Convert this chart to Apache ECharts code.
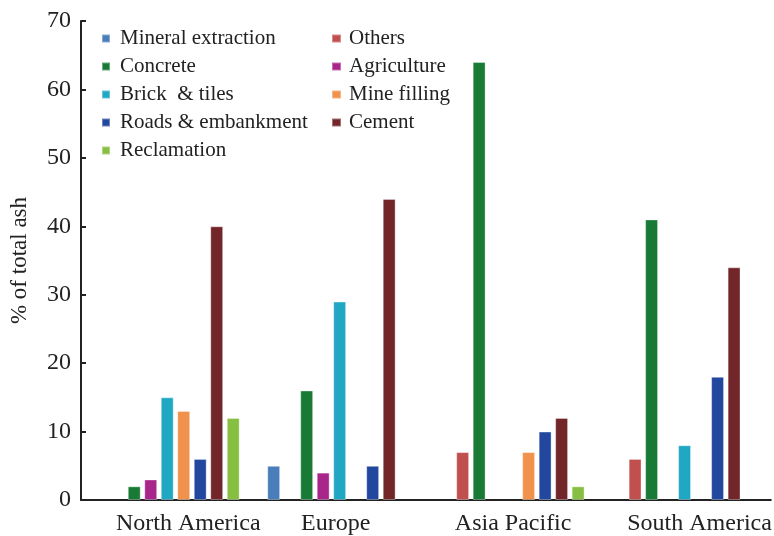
<!DOCTYPE html>
<html>
<head>
<meta charset="utf-8">
<script src="https://cdn.jsdelivr.net/npm/echarts@6/dist/echarts.min.js"></script>
<style>
  html, body { margin: 0; padding: 0; background: #fff; }
  #chart { width: 774px; height: 536px; }
</style>
</head>
<body>
<div id="chart"></div>
<script>
// Regions on the category axis
const regions = ['North America', 'Europe', 'Asia Pacific', 'South America'];

// Share of total ash per use, one array per use (same order as regions)
const mineralExtraction = [null, 5, null, null];
const others            = [null, null, 7, 6];
const concrete          = [2, 16, 64, 41];
const agriculture       = [3, 4, null, null];
const brickTiles        = [15, 29, null, 8];
const mineFilling       = [13, null, 7, null];
const roadsEmbankment   = [6, 5, 10, 18];
const cement            = [40, 44, 12, 34];
const reclamation       = [12, null, 2, null];

const yTicks = [0, 10, 20, 30, 40, 50, 60, 70];

const seriesDefs = [
  { name: 'Mineral extraction', data: mineralExtraction, color: '#4a7ebb' },
  { name: 'Others',             data: others,            color: '#c0504d' },
  { name: 'Concrete',           data: concrete,          color: '#187a35' },
  { name: 'Agriculture',        data: agriculture,       color: '#a8258a' },
  { name: 'Brick  & tiles',     data: brickTiles,        color: '#1fa7c4' },
  { name: 'Mine filling',       data: mineFilling,       color: '#f0924b' },
  { name: 'Roads & embankment', data: roadsEmbankment,   color: '#22479e' },
  { name: 'Cement',             data: cement,            color: '#73262a' },
  { name: 'Reclamation',        data: reclamation,       color: '#86bf41' }
];

const FONT = 'Liberation Serif';
const TEXT = '#222';

const catLabel = { fontFamily: FONT, fontSize: 24, color: TEXT };

const chart = echarts.init(document.getElementById('chart'), null, { renderer: 'canvas' });

chart.setOption({
  animation: false,
  backgroundColor: '#fff',
  grid: { left: 77, right: 0, top: 21, bottom: 34, containLabel: false },
  legend: [
    {
      data: ['Mineral extraction', 'Concrete', 'Brick  & tiles', 'Roads & embankment', 'Reclamation'],
      orient: 'vertical', left: 101, top: 28, padding: 0,
      itemWidth: 8, itemHeight: 8, itemGap: 7,
      icon: 'rect',
      textStyle: { fontFamily: FONT, fontSize: 21, color: TEXT, padding: [0, 0, 0, 5] }
    },
    {
      data: ['Others', 'Agriculture', 'Mine filling', 'Cement'],
      orient: 'vertical', left: 331, top: 28, padding: 0,
      itemWidth: 9, itemHeight: 8, itemGap: 7,
      icon: 'rect',
      textStyle: { fontFamily: FONT, fontSize: 21, color: TEXT, padding: [0, 0, 0, 3] }
    }
  ],
  xAxis: {
    type: 'category',
    data: regions,
    axisLine: { lineStyle: { color: '#222', width: 2 } },
    axisTick: { inside: true, length: 5, lineStyle: { color: '#222', width: 2 } },
    axisLabel: {
      interval: 0,
      margin: 12,
      fontFamily: FONT, fontSize: 24, color: TEXT,
      formatter: function (v, i) { return '{c' + i + '|' + v + '}'; },
      rich: {
        c0: Object.assign({ padding: [0, 0, 0, 42] }, catLabel),
        c1: Object.assign({ padding: [0, 8, 0, 0] }, catLabel),
        c2: Object.assign({ padding: [0, 0, 0, 2] }, catLabel),
        c3: Object.assign({ padding: [0, 0, 0, 30] }, catLabel)
      }
    }
  },
  yAxis: {
    type: 'value',
    min: yTicks[0], max: yTicks[yTicks.length - 1], interval: 10,
    name: '% of total ash',
    nameLocation: 'middle',
    nameGap: 50,
    nameTextStyle: { fontFamily: FONT, fontSize: 23, color: TEXT },
    axisLine: { show: true, lineStyle: { color: '#222', width: 2 } },
    axisTick: { show: true, inside: true, length: 5, lineStyle: { color: '#222', width: 2 } },
    splitLine: { show: false },
    axisLabel: { margin: 10, fontFamily: FONT, fontSize: 24, color: TEXT }
  },
  series: seriesDefs.map(function (s) {
    return {
      name: s.name,
      type: 'bar',
      data: s.data,
      barGap: '28%',
      barCategoryGap: '16%',
      itemStyle: { color: s.color, borderColor: 'rgba(255,255,255,0.35)', borderWidth: 1 }
    };
  })
});
</script>
</body>
</html>
